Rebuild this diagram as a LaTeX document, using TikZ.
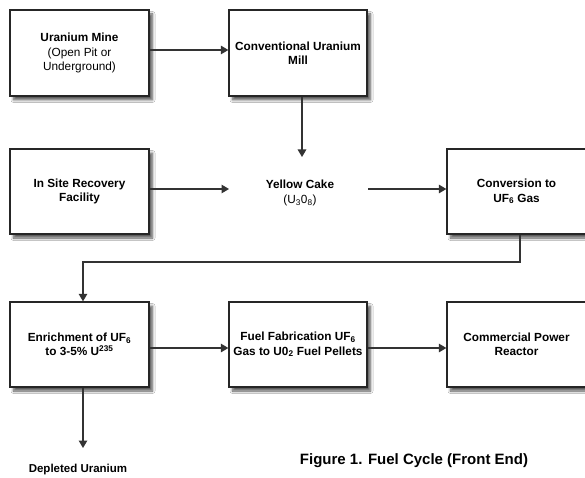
\documentclass[tikz,border=0pt]{standalone}
\usepackage{fontspec}
\setmainfont{Liberation Sans}
\usetikzlibrary{arrows.meta,shadows.blur,calc}
\begin{document}
\begin{tikzpicture}[x=1pt,y=-1pt,
  stagebox/.style={draw=black!85, line width=1.3pt, fill=white, minimum width=139pt, minimum height=86pt,
    inner sep=0pt, align=center, font=\fontsize{11.8}{14.5}\selectfont\bfseries,
    blur shadow={shadow xshift=3.5pt, shadow yshift=-4pt, shadow blur radius=2.5pt, shadow blur steps=6, shadow opacity=65}},
  plain/.style={align=center, inner sep=0pt, font=\fontsize{11.8}{14.5}\selectfont\bfseries},
  arr/.style={draw=black!80, line width=1.3pt, -{Triangle[length=7.5pt,width=8.5pt]}},
  conn/.style={draw=black!80, line width=1.3pt}]
\useasboundingbox (0,0) rectangle (585,478);
\clip (0,0) rectangle (585,478);
\fill[white] (0,0) rectangle (585,478);
% boxes
\node[stagebox] (mine) at (79.5,53) {Uranium Mine\\{\mdseries(Open Pit or}\\{\mdseries Underground)}};
\node[stagebox, minimum width=138pt] (mill) at (298,53) {Conventional Uranium\\Mill};
\node[stagebox, minimum height=85pt] (isr) at (79.5,191.5) {In Site Recovery\\Facility};
\node[plain] (yc) at (300,193) {Yellow Cake\\{\mdseries(U\textsubscript{3}0\textsubscript{8})}};
\node[stagebox, minimum height=85pt] (conv) at (516.5,191.5) {Conversion to\\UF\textsubscript{6} Gas};
\node[stagebox, minimum height=85pt] (enr) at (79.5,344.5) {Enrichment of UF\textsubscript{6}\\to 3-5\% U\textsuperscript{235}};
\node[stagebox, minimum width=138pt, minimum height=85pt] (fuel) at (298,344.5) {Fuel Fabrication UF\textsubscript{6}\\Gas to U0\textsubscript{2} Fuel Pellets};
\node[stagebox, minimum height=85pt] (reac) at (516.5,344.5) {Commercial Power\\Reactor};
\node[plain, font=\fontsize{11.5}{14}\selectfont\bfseries] (dep) at (78,470) {Depleted Uranium};
\node[plain, font=\fontsize{15}{18}\selectfont\bfseries] (cap) at (414,461) {Figure 1. Fuel Cycle (Front End)};
% coordinates
\coordinate (ycin) at (229,189);
\coordinate (ycout) at (368,189);
\coordinate (ycin2) at (302,157);
\coordinate (depend) at (83,448);
% connectors
\draw[arr] ($(mine.east)+(0,-3)$) -- ($(mill.west)+(0,-3)$);
\draw[arr] (mill.south -| ycin2) -- (ycin2);
\draw[arr] (isr.east |- ycin) -- (ycin);
\draw[arr] (ycout) -- (conv.west |- ycout);
\draw[arr] (conv.south -| 520,0) |- (83,262) -- (enr.north -| 83,0);
\draw[arr] ($(enr.east)+(0,3.5)$) -- ($(fuel.west)+(0,3.5)$);
\draw[arr] ($(fuel.east)+(0,3.5)$) -- ($(reac.west)+(0,3.5)$);
\draw[arr] (enr.south -| depend) -- (depend);
\end{tikzpicture}
\end{document}
